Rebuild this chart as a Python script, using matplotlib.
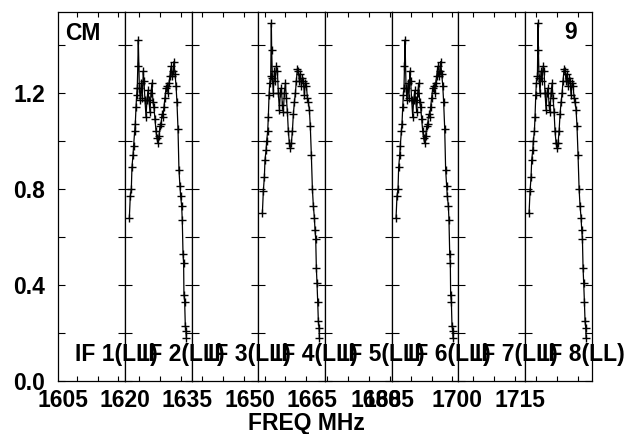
import matplotlib
matplotlib.use("Agg")
import matplotlib.pyplot as plt
import numpy as np

plt.rcParams['font.family'] = ['Liberation Sans', 'DejaVu Sans']
plt.rcParams['font.weight'] = 'bold'

# ---------------- data ----------------
IF_NAMES = ["IF 1(LL)", "IF 2(LL)", "IF 3(LL)", "IF 4(LL)",
            "IF 5(LL)", "IF 6(LL)", "IF 7(LL)", "IF 8(LL)"]
FREQ_TICK_LABELS = ["1605", "1620", "1635", "1650", "1665", "1680", "1685", "1700", "1715"]
FREQ_TICK_POS = [0.075, 1.0, 1.926, 2.875, 3.80, 4.765, 4.96, 5.98, 6.925]  # IF-panel units
Y_MAJOR = [0.0, 0.4, 0.8, 1.2]
Y_MINOR = [0.2, 0.6, 1.0, 1.4]
Y_MAX = 1.5375
NCHAN = 64

IF2_CH = [4.2, 5.1, 6.1, 6.7, 7.7, 8.3, 9.3, 9.9, 10.6, 11.2, 11.8, 12.3, 12.8, 13.8,
          14.7, 15.7, 16.6, 17.6, 18.2, 19.2, 20.2, 21.1, 22.1, 23.0, 24.0, 25.0, 25.9,
          26.9, 27.8, 28.8, 29.8, 30.7, 31.7, 32.6, 33.6, 34.6, 35.5, 36.5, 37.4, 38.4,
          39.4, 40.3, 41.3, 42.2, 43.2, 44.2, 45.1, 46.1, 47.0, 48.0, 49.0, 49.9, 50.9,
          51.8, 52.8, 53.4, 54.4, 55.0, 55.7, 56.3, 56.6, 57.3, 57.9, 58.6, 58.9]
IF2_AMP = [0.68, 0.77, 0.80, 0.89, 0.94, 0.98, 1.04, 1.07, 1.14, 1.19, 1.22, 1.31, 1.42, 1.22,
           1.17, 1.24, 1.18, 1.29, 1.25, 1.17, 1.10, 1.17, 1.21, 1.17, 1.12, 1.20, 1.24,
           1.16, 1.14, 1.09, 1.04, 1.01, 0.99, 1.02, 1.06, 1.07, 1.11, 1.10, 1.14, 1.18,
           1.22, 1.23, 1.20, 1.24, 1.27, 1.31, 1.27, 1.29, 1.33, 1.28, 1.23, 1.16, 1.05,
           0.88, 0.81, 0.77, 0.73, 0.67, 0.53, 0.49, 0.36, 0.33, 0.23, 0.21, 0.18]

IF4_CH = [3.9, 4.8, 5.8, 6.4, 7.4, 8.0, 9.0, 9.6, 10.3, 10.9, 11.9, 12.5, 12.8, 13.5,
          14.4, 15.4, 16.3, 17.3, 18.3, 19.2, 20.2, 21.2, 22.1, 23.1, 24.0, 25.0, 26.0,
          26.9, 27.9, 28.8, 29.8, 30.8, 31.7, 32.7, 33.6, 34.6, 35.6, 36.5, 37.5, 38.4,
          39.4, 40.3, 41.3, 42.3, 43.2, 44.2, 45.1, 46.1, 47.1, 48.0, 49.0, 49.9, 50.9,
          51.9, 52.8, 53.8, 54.4, 55.1, 55.7, 56.3, 57.0, 57.6, 58.3, 58.6]
IF4_AMP = [0.70, 0.79, 0.85, 0.92, 0.96, 1.00, 1.04, 1.10, 1.19, 1.24, 1.27, 1.49, 1.38, 1.26,
           1.20, 1.29, 1.25, 1.31, 1.29, 1.20, 1.13, 1.20, 1.22, 1.15, 1.12, 1.20, 1.24,
           1.18, 1.12, 1.04, 0.99, 0.97, 0.99, 1.04, 1.11, 1.16, 1.20, 1.25, 1.30, 1.29,
           1.25, 1.28, 1.23, 1.26, 1.25, 1.19, 1.24, 1.23, 1.18, 1.16, 1.13, 1.06, 0.94,
           0.80, 0.73, 0.68, 0.63, 0.59, 0.47, 0.41, 0.33, 0.25, 0.22, 0.18]

# IF 6 and IF 8 read as visually identical to IF 2 and IF 4
IF6_CH = list(IF2_CH)
IF6_AMP = list(IF2_AMP)
IF8_CH = list(IF4_CH)
IF8_AMP = list(IF4_AMP)

DATA = {1: (IF2_CH, IF2_AMP), 3: (IF4_CH, IF4_AMP),
        5: (IF6_CH, IF6_AMP), 7: (IF8_CH, IF8_AMP)}

# ---------------- layout ----------------
W, H = 627, 434
FS = 16.5
fig = plt.figure(figsize=(W / 100, H / 100), dpi=100)
L, R = 58.3 / W, 591.7 / W
B, T = 1 - 381 / H, 1 - 11.7 / H
pw = (R - L) / 8
panel_px = (591.7 - 58.3) / 8

for p in range(8):
    ax = fig.add_axes([L + p * pw, B, pw, T - B])
    ax.set_xlim(0, NCHAN)
    ax.set_ylim(0, Y_MAX)
    for s in ax.spines.values():
        s.set_linewidth(0.9)
        s.set_color('black')
    ax.set_yticks(Y_MAJOR + Y_MINOR)
    ax.set_yticklabels([])
    ax.tick_params(axis='y', direction='in', left=True, right=True,
                   length=4.8, width=0.8, labelleft=False)
    # regular 5-MHz tick grid in this panel
    grid_px = 76.7 + 20.875 * np.arange(25)
    ch = (grid_px - 58.3 - panel_px * p) * NCHAN / panel_px
    ch = ch[(ch > 0.3) & (ch < NCHAN - 0.3)]
    ax.set_xticks(ch)
    ax.set_xticklabels([])
    ax.tick_params(axis='x', direction='in', top=True, bottom=True,
                   length=3.6, width=0.8, labelbottom=False)
    if p in DATA:
        x, y = DATA[p]
        ax.plot(x, y, color='black', lw=0.9, marker='+', ms=6.0, mew=1.0,
                clip_on=False)

# overlay for labels
ov = fig.add_axes([L, B, R - L, T - B], frameon=False)
ov.set_xlim(0, 8)
ov.set_ylim(0, Y_MAX)
ov.set_xticks(FREQ_TICK_POS)
ov.set_xticklabels(FREQ_TICK_LABELS, fontsize=FS, fontweight='bold')
ov.set_yticks(Y_MAJOR)
ov.set_yticklabels([f"{v:.1f}" for v in Y_MAJOR], fontsize=FS, fontweight='bold')
ov.tick_params(axis='x', length=0, pad=5.5)
ov.tick_params(axis='y', length=0, pad=9.6)

for i, name in enumerate(IF_NAMES):
    ov.text(i + 16.7 / panel_px, 0.082, name, fontsize=FS, fontweight='bold',
            ha='left', va='baseline')

fig.text(65 / W, 1 - 40 / H, "CM", fontsize=FS, fontweight='bold', ha='left', va='baseline')
fig.text(577 / W, 1 - 39.3 / H, "9", fontsize=FS, fontweight='bold', ha='right', va='baseline')
fig.text(306.5 / W, 1 - 430 / H, "FREQ MHz", fontsize=FS, fontweight='bold',
         ha='center', va='baseline')

fig.savefig("out.png", dpi=100)
